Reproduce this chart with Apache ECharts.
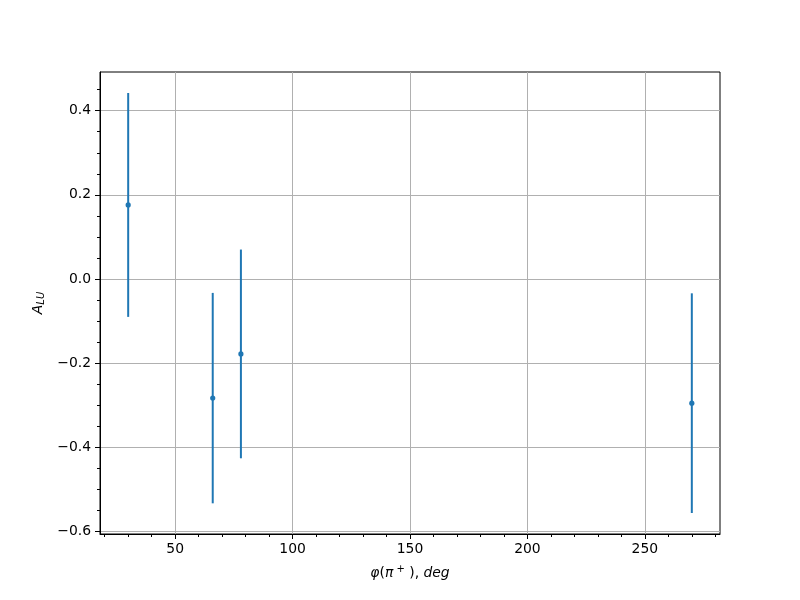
<!DOCTYPE html>
<html>
<head>
<meta charset="utf-8">
<script src="https://cdn.jsdelivr.net/npm/echarts@6/dist/echarts.min.js"></script>
<style>html,body{margin:0;padding:0;background:#fff}#c{width:800px;height:600px}</style>
</head>
<body>
<div id="c"></div>
<script>
// Data
const phiDeg = [30, 66, 78, 270];
const aLU = [0.176, -0.283, -0.178, -0.295];
const aLUerr = [0.266, 0.250, 0.248, 0.261];
const xMajorTicks = [50, 100, 150, 200, 250];
const xMinorTicks = [20, 30, 40, 60, 70, 80, 90, 110, 120, 130, 140, 160, 170, 180, 190, 210, 220, 230, 240, 260, 270, 280];
const yMajorTicks = [-0.6, -0.4, -0.2, 0.0, 0.2, 0.4];
const yMinorTicks = [-0.55, -0.5, -0.45, -0.35, -0.3, -0.25, -0.15, -0.1, -0.05, 0.05, 0.1, 0.15, 0.25, 0.3, 0.35, 0.45];

// matplotlib-like 5% margins
const xLo = Math.min(...phiDeg), xHi = Math.max(...phiDeg);
const xPad = (xHi - xLo) * 0.05;
const yLoData = Math.min(...aLU.map((v, i) => v - aLUerr[i]));
const yHiData = Math.max(...aLU.map((v, i) => v + aLUerr[i]));
const yPad = (yHiData - yLoData) * 0.05;

const data = phiDeg.map((x, i) => [x, aLU[i], aLUerr[i]]);
const font = 'DejaVu Sans';
const fs = 13.9;
const blue = '#1f77b4';

const chart = echarts.init(document.getElementById('c'), null, {renderer: 'canvas'});
chart.setOption({
  animation: false,
  backgroundColor: '#fff',
  grid: {left: 100, right: 80, top: 72, bottom: 66, show: true, borderColor: '#000', borderWidth: 1, backgroundColor: 'transparent', containLabel: false},
  xAxis: [{
    type: 'value', min: xLo - xPad, max: xHi + xPad, position: 'bottom',
    axisLine: {show: true, onZero: false, lineStyle: {color: '#000', width: 1}},
    axisTick: {show: true, customValues: xMajorTicks, length: 5, lineStyle: {color: '#000', width: 1}},
    axisLabel: {show: true, customValues: xMajorTicks, margin: 8, color: '#000', fontFamily: font, fontSize: fs},
    splitLine: {show: true, lineStyle: {color: '#b0b0b0', width: 1}},
    name: '{i|φ}({i|π}{sup| +} ), {i|deg}', nameLocation: 'middle', nameGap: 30,
    nameTextStyle: {color: '#000', fontFamily: font, fontSize: fs,
      rich: {i: {fontStyle: 'italic', fontFamily: font, fontSize: fs, color: '#000'},
             sup: {fontSize: 10, verticalAlign: 'top', padding: [0, 0, 8, 0], fontFamily: font, color: '#000'}}}
  }, {
    type: 'value', min: xLo - xPad, max: xHi + xPad, position: 'bottom',
    axisLine: {show: false, onZero: false},
    axisTick: {show: true, customValues: xMinorTicks, length: 3, lineStyle: {color: '#000', width: 1}},
    axisLabel: {show: false},
    splitLine: {show: false}
  }],
  yAxis: [{
    type: 'value', min: yLoData - yPad, max: yHiData + yPad, position: 'left',
    axisLine: {show: true, onZero: false, lineStyle: {color: '#000', width: 1}},
    axisTick: {show: true, customValues: yMajorTicks, length: 5, lineStyle: {color: '#000', width: 1}},
    axisLabel: {show: true, customValues: yMajorTicks, margin: 9, color: '#000', fontFamily: font, fontSize: fs,
      formatter: v => (v < 0 ? '\u2212' : '') + Math.abs(v).toFixed(1)},
    splitLine: {show: true, lineStyle: {color: '#b0b0b0', width: 1}},
    name: '{i|A}{sub|LU}', nameLocation: 'middle', nameRotate: 90, nameGap: 48,
    nameTextStyle: {color: '#000', fontFamily: font, fontSize: fs,
      rich: {i: {fontStyle: 'italic', fontFamily: font, fontSize: fs, color: '#000'},
             sub: {fontStyle: 'italic', fontFamily: font, fontSize: 10, color: '#000', verticalAlign: 'bottom', padding: [6, 0, 0, 0]}}}
  }, {
    type: 'value', min: yLoData - yPad, max: yHiData + yPad, position: 'left',
    axisLine: {show: false, onZero: false},
    axisTick: {show: true, customValues: yMinorTicks, length: 3, lineStyle: {color: '#000', width: 1}},
    axisLabel: {show: false},
    splitLine: {show: false}
  }],
  series: [{
    type: 'custom', xAxisIndex: 0, yAxisIndex: 0, data: data,
    renderItem: (params, api) => {
      const x = api.value(0), y = api.value(1), e = api.value(2);
      const top = api.coord([x, y + e]);
      const bot = api.coord([x, y - e]);
      const c = api.coord([x, y]);
      return {type: 'group', children: [
        {type: 'line', shape: {x1: top[0], y1: top[1], x2: bot[0], y2: bot[1]}, style: {stroke: blue, lineWidth: 2}},
        {type: 'circle', shape: {cx: c[0], cy: c[1], r: 2.6}, style: {fill: blue}}
      ]};
    }
  }]
});
</script>
</body>
</html>
